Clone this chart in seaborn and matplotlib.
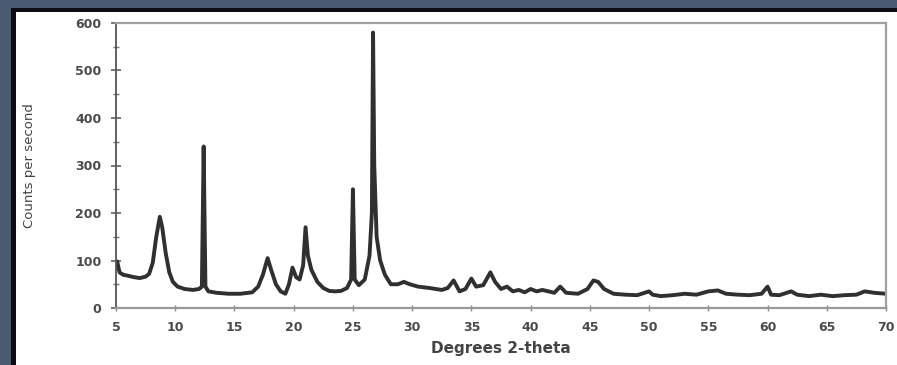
import matplotlib
matplotlib.use("Agg")
import matplotlib.pyplot as plt
from matplotlib.patches import Rectangle
from matplotlib.ticker import MultipleLocator
import seaborn as sns
import pandas as pd

# Traced XRD pattern (degrees 2-theta, counts per second)
two_theta = [5.0, 5.1, 5.3, 5.6, 6.0, 6.5, 7.0, 7.5, 7.8, 8.1, 8.4, 8.7, 8.9, 9.2, 9.5, 9.8,
             10.2, 10.8, 11.5, 12.0, 12.25, 12.4, 12.55, 12.8, 13.5, 14.5, 15.5, 16.5, 17.0,
             17.4, 17.8, 18.1, 18.5, 18.9, 19.3, 19.6, 19.9, 20.2, 20.5, 20.8, 21.0, 21.2,
             21.5, 22.0, 22.5, 23.0, 23.5, 24.0, 24.5, 24.85, 25.0, 25.15, 25.5, 26.0, 26.4,
             26.6, 26.7, 26.8, 27.0, 27.3, 27.7, 28.2, 28.8, 29.3, 29.8, 30.5, 31.5, 32.5,
             33.0, 33.5, 34.0, 34.5, 35.0, 35.4, 36.0, 36.6, 37.0, 37.5, 38.0, 38.5, 39.0,
             39.5, 40.0, 40.5, 41.0, 42.0, 42.5, 43.0, 44.0, 44.8, 45.3, 45.7, 46.2, 47.0,
             48.0, 49.0, 50.0, 50.3, 51.0, 52.0, 53.0, 54.0, 55.0, 55.8, 56.5, 57.5, 58.5,
             59.5, 60.0, 60.3, 61.0, 62.0, 62.5, 63.5, 64.5, 65.5, 66.5, 67.5, 68.2, 69.0, 70.0]
counts = [85, 98, 75, 70, 68, 65, 63, 66, 72, 95, 150, 192, 170, 115, 75, 55,
          45, 40, 38, 40, 45, 340, 45, 35, 32, 30, 30, 33, 45,
          70, 105, 80, 50, 35, 30, 50, 85, 65, 60, 90, 170, 110,
          80, 55, 42, 36, 35, 36, 42, 60, 250, 60, 48, 60, 110,
          200, 580, 300, 150, 100, 70, 50, 50, 55, 50, 45, 42, 38,
          42, 58, 35, 40, 62, 45, 48, 75, 55, 40, 45, 35, 38,
          33, 40, 35, 38, 32, 45, 32, 30, 40, 58, 55, 40, 30,
          28, 27, 35, 28, 25, 27, 30, 28, 35, 37, 30, 28, 27,
          30, 45, 28, 27, 35, 28, 25, 28, 25, 27, 28, 35, 32, 30]

x_ticks = [5, 10, 15, 20, 25, 30, 35, 40, 45, 50, 55, 60, 65, 70]
y_ticks = [0, 100, 200, 300, 400, 500, 600]

df = pd.DataFrame({"two_theta": two_theta, "counts": counts})

sns.set_style("white")
plt.rcParams["font.family"] = ["DejaVu Sans"]

W, H = 897, 365
fig = plt.figure(figsize=(W / 100, H / 100), dpi=100)
fig.patch.set_facecolor("white")

# dark frame (top and left)
fig.patches.append(Rectangle((0, 1 - 12 / H), 1, 12 / H, transform=fig.transFigure,
                             facecolor="#4a5870", edgecolor="none", zorder=0))
fig.patches.append(Rectangle((0, 0), 11 / W, 1, transform=fig.transFigure,
                             facecolor="#4a5870", edgecolor="none", zorder=0))
fig.patches.append(Rectangle((11 / W, 0), 5 / W, 1 - 8 / H, transform=fig.transFigure,
                             facecolor="#0b0d12", edgecolor="none", zorder=0))
fig.patches.append(Rectangle((11 / W, 1 - 12 / H), 1 - 11 / W, 4 / H, transform=fig.transFigure,
                             facecolor="#0b0d12", edgecolor="none", zorder=0))

left, right = 116 / W, 886 / W
bottom, top = 1 - 308 / H, 1 - 23 / H
ax = fig.add_axes([left, bottom, right - left, top - bottom])
ax.set_facecolor("white")

sns.lineplot(data=df, x="two_theta", y="counts", ax=ax, color="#303030",
             linewidth=2.8, sort=False)

ax.set_xlim(5, 70)
ax.set_ylim(0, 600)
ax.set_xticks(x_ticks)
ax.set_yticks(y_ticks)
ax.set_xticklabels([str(v) for v in x_ticks])
ax.set_yticklabels([str(v) for v in y_ticks])
ax.yaxis.set_minor_locator(MultipleLocator(50))

for s in ["top", "right"]:
    ax.spines[s].set_color("#a0a0a0")
    ax.spines[s].set_linewidth(1.6)
ax.spines["left"].set_color("#555555")
ax.spines["left"].set_linewidth(1.3)
ax.spines["bottom"].set_color("#999999")
ax.spines["bottom"].set_linewidth(1.6)

ax.tick_params(axis="y", which="major", direction="inout", length=7, width=1.1,
               color="#555555", labelsize=9, labelcolor="#4a4a4a", pad=7, left=True)
ax.tick_params(axis="y", which="minor", direction="inout", length=4, width=1,
               color="#777777", left=True)
ax.tick_params(axis="x", which="major", direction="inout", length=5, width=1,
               color="#888888", labelsize=9, labelcolor="#4a4a4a", pad=7, bottom=True)
for lab in ax.get_xticklabels() + ax.get_yticklabels():
    lab.set_fontweight("bold")

ax.set_xlabel("Degrees 2-theta", fontsize=11, fontweight="bold", color="#444444",
              labelpad=5)
ax.set_ylabel("Counts per second", fontsize=9.5, color="#444444", labelpad=28)

fig.savefig("out.png", dpi=100, facecolor=fig.get_facecolor())
